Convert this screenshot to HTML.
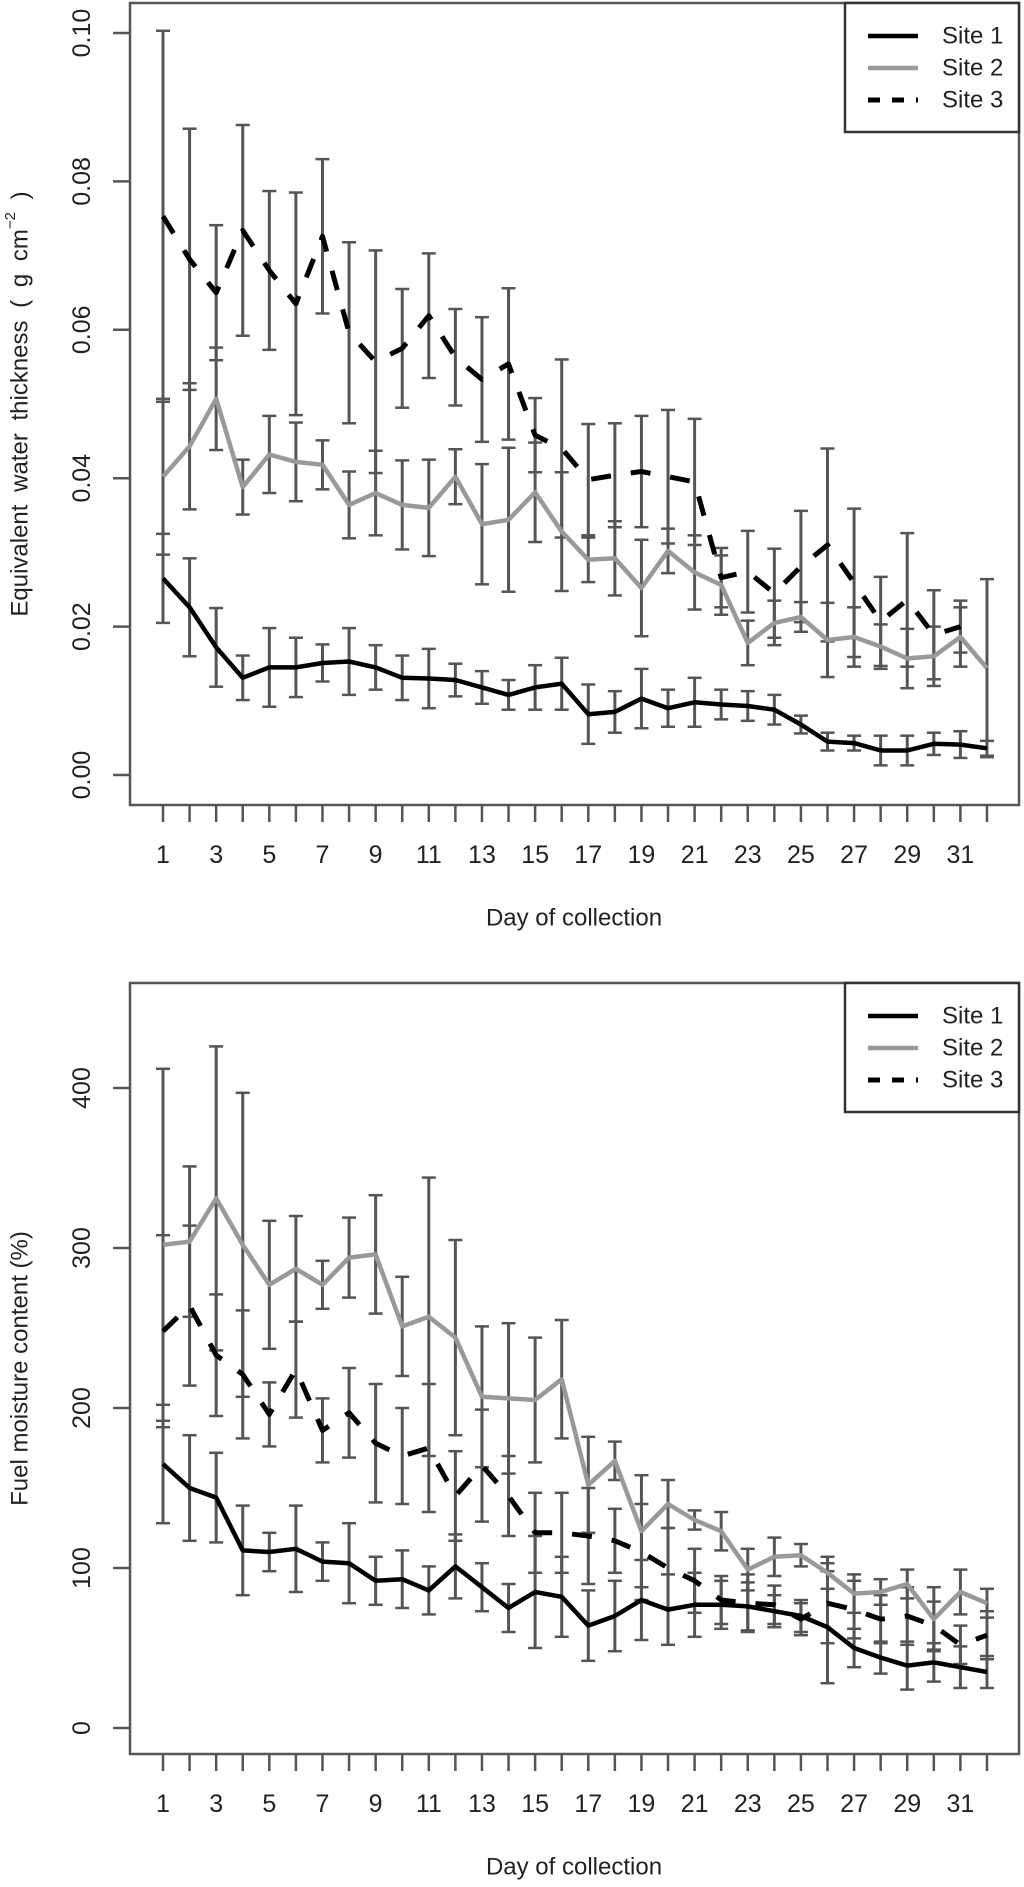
<!DOCTYPE html>
<html><head><meta charset="utf-8"><style>
html,body{margin:0;padding:0;background:#fff}
svg{display:block;font-family:"Liberation Sans",Arial,sans-serif}
</style></head><body>
<svg id="chart" width="1024" height="1887" viewBox="0 0 1024 1887" xmlns="http://www.w3.org/2000/svg"></svg>
<script>
// ----- data -----
const days = [1,2,3,4,5,6,7,8,9,10,11,12,13,14,15,16,17,18,19,20,21,22,23,24,25,26,27,28,29,30,31,32];
const xTickLabels = [1,3,5,7,9,11,13,15,17,19,21,23,25,27,29,31];
const seriesNames = ["Site 1","Site 2","Site 3"];
// Top panel: equivalent water thickness
const ewtTicks = [0.00,0.02,0.04,0.06,0.08,0.10];
const ewtS1 = [0.0265,0.0226,0.0172,0.0131,0.0145,0.0145,0.0151,0.0153,0.0145,0.0131,0.0130,0.0128,0.0118,0.0108,0.0118,0.0123,0.0082,0.0085,0.0103,0.0090,0.0098,0.0095,0.0093,0.0088,0.0068,0.0045,0.0043,0.0033,0.0033,0.0042,0.0041,0.0036];
const ewtS1Err = [0.006,0.0066,0.0053,0.003,0.0053,0.004,0.0025,0.0045,0.003,0.003,0.004,0.0022,0.0022,0.002,0.003,0.0035,0.004,0.0028,0.004,0.0025,0.0033,0.002,0.002,0.002,0.0012,0.0012,0.001,0.002,0.002,0.0015,0.0018,0.001];
const ewtS2 = [0.0402,0.0443,0.0507,0.0388,0.0432,0.0422,0.0418,0.0364,0.0380,0.0364,0.0360,0.0402,0.0338,0.0344,0.0381,0.0328,0.0290,0.0292,0.0252,0.0302,0.0273,0.0256,0.0178,0.0205,0.0213,0.0182,0.0186,0.0173,0.0157,0.0160,0.0186,0.0144];
const ewtS2Err = [0.0105,0.0085,0.0069,0.0037,0.0052,0.0053,0.0033,0.0045,0.0057,0.006,0.0065,0.0037,0.0081,0.0097,0.0067,0.008,0.003,0.005,0.0065,0.003,0.005,0.004,0.003,0.003,0.002,0.005,0.004,0.003,0.004,0.004,0.004,0.012];
const ewtS3 = [0.0753,0.0695,0.0650,0.0734,0.0680,0.0635,0.0726,0.0596,0.0557,0.0575,0.0619,0.0563,0.0533,0.0554,0.0458,0.0440,0.0398,0.0404,0.0409,0.0402,0.0395,0.0266,0.0274,0.0245,0.0281,0.0310,0.0259,0.0207,0.0236,0.0189,0.0200,null];
const ewtS3Err = [0.025,0.0176,0.0091,0.0142,0.0107,0.015,0.0104,0.0122,0.015,0.008,0.0084,0.0065,0.0084,0.0102,0.005,0.012,0.0075,0.007,0.0075,0.009,0.0085,0.004,0.0055,0.006,0.0075,0.013,0.01,0.006,0.009,0.006,0.0035,null];
// Bottom panel: fuel moisture content
const fmcTicks = [0,100,200,300,400];
const fmcS1 = [165,150,144,111,110,112,104,103,92,93,86,101,88,75,85,82,64,70,80,74,77,77,76,73,70,63,50,44,39,41,38,35];
const fmcS1Err = [37,33,28,28,12,27,12,25,15,18,15,20,15,15,35,25,22,22,25,22,20,15,15,10,10,35,12,10,15,12,13,10];
const fmcS2 = [302,304,331,302,277,287,277,294,296,251,257,244,207,206,205,218,152,167,123,140,130,123,99,107,108,97,84,85,90,68,85,78];
const fmcS2Err = [110,47,95,95,40,33,15,25,37,31,87,61,44,47,39,37,30,12,35,15,6,12,13,12,7,10,12,8,9,20,14,9];
const fmcS3 = [248,264,233,221,196,224,186,197,178,170,175,145,164,145,122,122,120,117,110,100,92,80,78,77,68,78,74,68,70,64,52,58];
const fmcS3Err = [60,50,38,40,20,30,20,28,37,30,40,28,35,25,25,25,30,20,30,25,20,15,18,12,10,25,18,15,18,15,12,15];

const NS = "http://www.w3.org/2000/svg";
const svg = document.getElementById('chart');
function mk(tag, attrs, parent){
  const e = document.createElementNS(NS, tag);
  for (const k in attrs) e.setAttribute(k, attrs[k]);
  (parent||svg).appendChild(e);
  return e;
}
const X0 = 163, DX = 26.58;
function xScale(d){ return X0 + (d-1)*DX; }

function panel(cfg){
  const g = mk('g', {});
  
  
  const y = v => cfg.y0 - (v - cfg.vmin) * cfg.k;
  const box = mk('rect', {x:130, y:cfg.top, width:889, height:cfg.bottom-cfg.top, fill:'none', stroke:'#555', 'stroke-width':2.5}, g);
  
  
  cfg.ticks.forEach((t,i)=>{
    const ty = y(t);
    const tl = mk('line', {x1:113, x2:130, y1:ty, y2:ty, stroke:'#555', 'stroke-width':2.5}, g);
    
    
    const tx = mk('text', {x:82, y:ty, 'font-size':25, fill:'#222', 'text-anchor':'middle', 'dominant-baseline':'central', transform:`rotate(-90 82 ${ty})`}, g);
    tx.textContent = cfg.tickFmt(t);
    
    
  });
  days.forEach(d=>{
    const tx = xScale(d);
    const tl = mk('line', {x1:tx, x2:tx, y1:cfg.bottom, y2:cfg.bottom+17, stroke:'#555', 'stroke-width':2.5}, g);
    
    
  });
  xTickLabels.forEach(d=>{
    const t = mk('text', {x:xScale(d), y:cfg.bottom+50, 'font-size':25, fill:'#222', 'text-anchor':'middle', 'dominant-baseline':'central'}, g);
    t.textContent = d;
    
    
  });
  const xt = mk('text', {x:574, y:cfg.bottom+113, 'font-size':24, fill:'#222', 'text-anchor':'middle', 'dominant-baseline':'central'}, g);
  xt.textContent = 'Day of collection';
  
  
  const yc = (cfg.top + cfg.bottom)/2;
  const yt = mk('text', {x:20, y:yc, 'font-size':24, fill:'#222', 'text-anchor':'middle', 'dominant-baseline':'central', 'xml:space':'preserve', transform:`rotate(-90 20 ${yc})`}, g);
  
  
  if (cfg.ewt){
    yt.setAttribute('word-spacing', '6');
    yt.appendChild(document.createTextNode('Equivalent water thickness ( g cm'));
    const sup = mk('tspan', {'font-size':15, dy:-10}, yt);
    sup.textContent = '\u22122';
    const rest = mk('tspan', {dy:10}, yt);
    rest.textContent = ' )';
  } else {
    yt.textContent = 'Fuel moisture content (%)';
  }
  const styles = [
    {stroke:'#000', w:4.5, dash:null},
    {stroke:'#999', w:4.5, dash:null},
    {stroke:'#000', w:5, dash:'20 20'}
  ];
  cfg.series.forEach((s,si)=>{
    const eg = mk('g', {}, g);
    
    
    s.vals.forEach((v,i)=>{
      const e = s.err[i];
      if (v === null || e === null) return;
      const xx = xScale(days[i]);
      const y1 = y(v+e), y2 = y(v-e);
      mk('line', {x1:xx, x2:xx, y1:y1, y2:y2, stroke:'#555', 'stroke-width':3}, eg);
      mk('line', {x1:xx-7, x2:xx+7, y1:y1, y2:y1, stroke:'#555', 'stroke-width':2.5}, eg);
      mk('line', {x1:xx-7, x2:xx+7, y1:y2, y2:y2, stroke:'#555', 'stroke-width':2.5}, eg);
    });
  });
  [1,0,2].forEach(si=>{
    const s = cfg.series[si];
    let pts = [];
    s.vals.forEach((v,i)=>{ if (v!==null) pts.push(xScale(days[i]).toFixed(1)+','+y(v).toFixed(1)); });
    const st = styles[si];
    const attrs = {points:pts.join(' '), fill:'none', stroke:st.stroke, 'stroke-width':st.w, 'stroke-linejoin':'round'};
    if (st.dash) attrs['stroke-dasharray'] = st.dash;
    const pl = mk('polyline', attrs, g);
    
    
  });
  const lg = mk('g', {}, g);
  
  
  mk('rect', {x:845, y:cfg.top, width:174, height:129, fill:'#fff', stroke:'#333', 'stroke-width':2.5}, lg);
  seriesNames.forEach((n,i)=>{
    const ly = cfg.top + 33 + i*32;
    const st = styles[i];
    const la = {x1:868, x2:918, y1:ly, y2:ly, stroke:st.stroke, 'stroke-width':st.w};
    if (st.dash) la['stroke-dasharray'] = '12 12';
    mk('line', la, lg);
    const t = mk('text', {x:942, y:ly, 'font-size':24, fill:'#222', 'dominant-baseline':'central'}, lg);
    t.textContent = n;
    
    
  });
}

panel({name:'ewt-panel', ewt:true, top:3, bottom:805, y0:775, vmin:0, k:7420, ticks:ewtTicks,
  tickFmt:t=>t.toFixed(2),
  series:[{vals:ewtS1,err:ewtS1Err},{vals:ewtS2,err:ewtS2Err},{vals:ewtS3,err:ewtS3Err}]});
panel({name:'fmc-panel', ewt:false, top:983, bottom:1754, y0:1728, vmin:0, k:1.6, ticks:fmcTicks,
  tickFmt:t=>String(t),
  series:[{vals:fmcS1,err:fmcS1Err},{vals:fmcS2,err:fmcS2Err},{vals:fmcS3,err:fmcS3Err}]});
</script>
</body></html>
